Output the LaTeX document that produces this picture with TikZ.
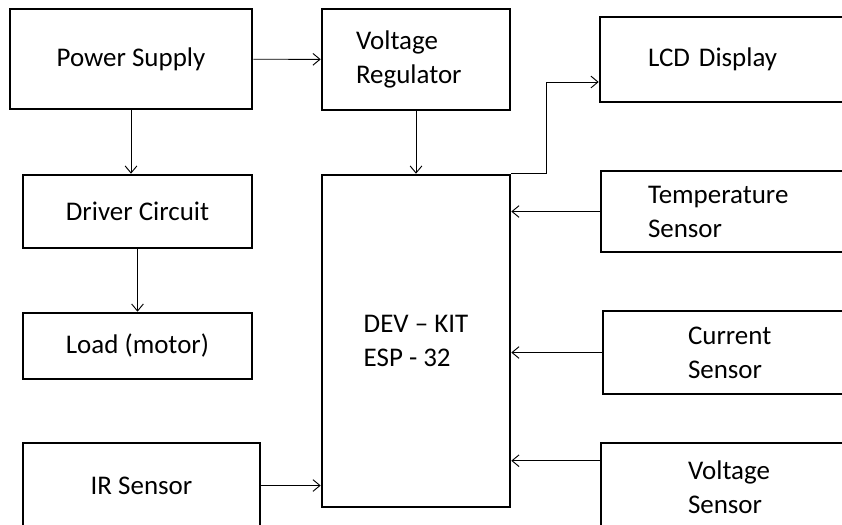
\documentclass[tikz,border=0pt]{standalone}
\usepackage{fontspec}
\setmainfont{Carlito}
\usepackage{tikz}
\usetikzlibrary{calc,positioning,arrows.meta}

\begin{document}
\begin{tikzpicture}[
  x=0.03cm, y=-0.03cm,
  blk/.style={rectangle, draw=black, fill=white, line width=2.2pt,
              font=\fontsize{23}{29}\selectfont, align=center},
  lblk/.style={blk, align=left},
  arr/.style={-{Straight Barb[length=6pt, width=10pt]}, line width=0.8pt},
]
  \useasboundingbox (0,0) rectangle (842,524);
  \clip (0,0) rectangle (842,524);

  % Left column: supply, driver, load, IR
  \node[blk, minimum width=7.26cm, minimum height=3cm] (psu) at (131,59) {Power Supply};
  \node[blk, minimum width=6.87cm, minimum height=2.19cm] (drv) at (137.5,211.5) {Driver Circuit};
  \node[blk, minimum width=6.87cm, minimum height=1.98cm] (load) at (137.5,346) {Load (motor)};
  \node[blk, minimum width=7.11cm, minimum height=2.55cm] (ir) at (141.5,485.5) {IR Sensor};

  % Middle column: regulator and controller
  \node[lblk, text width=3.6cm, inner xsep=1.02cm, minimum height=3.03cm] (vreg) at (416,59.5) {Voltage\\Regulator};
  \node[lblk, minimum width=5.64cm, minimum height=9.96cm] (esp) at (416,341) {DEV -- KIT\\ESP - 32};

  % Right column: display and sensors
  \node[lblk, text width=5.22cm, inner xsep=1.44cm, minimum height=2.55cm] (lcd) at (735,59.5) {LCD Display};
  \node[lblk, text width=5.25cm, inner xsep=1.41cm, minimum height=2.43cm] (temp) at (735.5,211.5) {Temperature\\Sensor};
  \node[lblk, text width=2.91cm, inner xsep=2.55cm, minimum height=2.49cm] (cur) at (736.5,352.5) {Current\\Sensor};
  \node[lblk, text width=2.85cm, inner xsep=2.61cm, minimum height=2.64cm] (vsen) at (735.5,487) {Voltage\\Sensor};

  % Arrows
  \coordinate (bend) at (546,82);
  \coordinate (vin) at ($(vsen.north west)+(0,19)$);
  \draw[arr] (psu) -- (vreg);
  \draw[arr] (psu) -- (psu |- drv.north);
  \draw[arr] (drv) -- (load);
  \draw[arr] (vreg) -- (esp);
  \draw[arr] (esp.north east) -| (bend) -- (bend -| lcd.west);
  \draw[arr] (temp.west) -- (temp.west -| esp.east);
  \draw[arr] (cur.west) -- (cur.west -| esp.east);
  \draw[arr] (vin) -- (vin -| esp.east);
  \draw[arr] (ir.east) -- (ir.east -| esp.west);
\end{tikzpicture}
\end{document}
